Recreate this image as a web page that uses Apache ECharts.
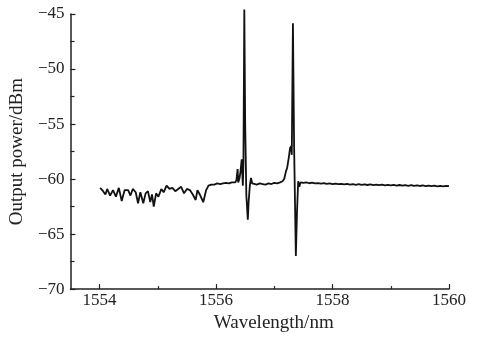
<!DOCTYPE html>
<html>
<head>
<meta charset="utf-8">
<script src="https://cdn.jsdelivr.net/npm/echarts@6/dist/echarts.min.js"></script>
<style>html,body{margin:0;padding:0;background:#fff}#c{width:477px;height:338px}</style>
</head>
<body>
<div id="c"></div>
<script>
const wavelength = [
1554.01,1554.06,1554.10,1554.13,1554.18,1554.23,1554.28,1554.33,1554.38,1554.43,
1554.49,1554.53,1554.57,1554.62,1554.66,1554.70,1554.75,1554.79,1554.83,1554.87,
1554.90,1554.93,1554.97,1555.01,1555.06,1555.10,1555.15,1555.20,1555.25,1555.30,
1555.35,1555.40,1555.45,1555.50,1555.55,1555.60,1555.65,1555.68,1555.72,1555.78,
1555.83,1555.87,1555.92,1555.97,1556.02,1556.07,1556.12,1556.17,1556.22,1556.27,
1556.30,1556.33,1556.35,1556.37,1556.38,1556.40,1556.42,1556.44,1556.45,1556.46,
1556.47,1556.485,1556.50,1556.52,1556.545,1556.56,1556.58,1556.60,1556.62,1556.65,
1556.70,1556.75,1556.80,1556.85,1556.90,1556.95,1557.00,1557.05,1557.10,1557.14,
1557.17,1557.20,1557.22,1557.25,1557.27,1557.29,1557.30,1557.32,1557.34,1557.37,
1557.39,1557.41,1557.43,1557.45,
1557.50,1557.55,1557.60,1557.65,1557.70,1557.75,1557.80,1557.85,1557.90,1557.95,
1558.00,1558.05,1558.10,1558.15,1558.20,1558.25,1558.30,1558.35,1558.40,1558.45,
1558.50,1558.55,1558.60,1558.65,1558.70,1558.75,1558.80,1558.85,1558.90,1558.95,
1559.00,1559.05,1559.10,1559.15,1559.20,1559.25,1559.30,1559.35,1559.40,1559.45,
1559.50,1559.55,1559.60,1559.65,1559.70,1559.75,1559.80,1559.85,1559.90,1559.95,
1560.00
];
const power = [
-60.8,-61.1,-61.4,-60.9,-61.5,-61.0,-61.6,-60.8,-62.0,-61.0,
-61.0,-61.5,-60.9,-61.2,-62.2,-61.2,-62.2,-61.3,-61.1,-62.1,
-61.4,-62.5,-61.3,-61.6,-60.9,-61.2,-60.6,-60.9,-60.8,-61.1,
-60.9,-60.7,-61.3,-60.9,-61.0,-61.4,-61.9,-61.0,-61.4,-62.1,
-61.0,-60.6,-60.5,-60.5,-60.4,-60.45,-60.4,-60.35,-60.4,-60.3,
-60.4,-60.3,-60.1,-59.1,-60.3,-60.0,-59.3,-58.2,-59.5,-60.6,
-58.5,-44.6,-55.0,-61.5,-63.7,-62.0,-60.6,-59.9,-60.4,-60.3,
-60.5,-60.4,-60.45,-60.5,-60.4,-60.45,-60.35,-60.4,-60.3,-60.2,
-60.0,-59.3,-59.0,-58.0,-57.2,-57.0,-57.8,-45.85,-57.0,-67.0,
-63.0,-60.2,-60.7,-60.3,
-60.35,-60.30,-60.38,-60.33,-60.40,-60.36,-60.42,-60.37,-60.44,-60.40,
-60.46,-60.41,-60.47,-60.43,-60.49,-60.44,-60.50,-60.46,-60.52,-60.47,
-60.53,-60.48,-60.54,-60.49,-60.55,-60.50,-60.56,-60.51,-60.57,-60.52,
-60.58,-60.53,-60.59,-60.54,-60.60,-60.55,-60.61,-60.56,-60.62,-60.57,
-60.63,-60.58,-60.64,-60.59,-60.65,-60.60,-60.66,-60.61,-60.67,-60.62,
-60.65
];
const xMajorTicks = [1554, 1556, 1558, 1560];
const xMinorTicks = [1555, 1557, 1559];

const font = 'Liberation Serif';
const chart = echarts.init(document.getElementById('c'), null, {renderer: 'canvas'});
const data = wavelength.map((w, i) => [w, power[i]]);
chart.setOption({
  animation: false,
  backgroundColor: '#fff',
  grid: {left: 70, right: 28, top: 14, bottom: 48, containLabel: false},
  xAxis: [{
    type: 'value', min: 1553.5, max: 1560, position: 'bottom',
    name: 'Wavelength/nm', nameLocation: 'middle', nameGap: 19,
    nameTextStyle: {fontFamily: font, fontSize: 19, color: '#222', padding: [0, 0, 0, 28]},
    axisLine: {show: true, lineStyle: {color: '#222', width: 1.5}},
    axisTick: {show: true, inside: true, length: 5, customValues: xMajorTicks, lineStyle: {color: '#222', width: 1.2}},
    axisLabel: {show: true, customValues: xMajorTicks, margin: 3, fontFamily: font, fontSize: 17, color: '#222',
      formatter: v => String(v)},
    splitLine: {show: false}
  }, {
    type: 'value', min: 1553.5, max: 1560, position: 'bottom',
    axisLine: {show: false},
    axisTick: {show: true, inside: true, length: 3, customValues: xMinorTicks, lineStyle: {color: '#222', width: 1.2}},
    axisLabel: {show: false},
    splitLine: {show: false}
  }],
  yAxis: {
    type: 'value', min: -70, max: -45, interval: 5,
    name: 'Output power/dBm', nameLocation: 'middle', nameGap: 40,
    nameTextStyle: {fontFamily: font, fontSize: 19, color: '#222'},
    axisLine: {show: true, lineStyle: {color: '#222', width: 1.5}},
    axisTick: {show: true, inside: true, length: 5, lineStyle: {color: '#222', width: 1.2}},
    minorTick: {show: true, splitNumber: 2, length: 4, lineStyle: {color: '#222', width: 1.2}},
    axisLabel: {margin: 6, fontFamily: font, fontSize: 17, color: '#222',
      formatter: v => String(v).replace('-', '\u2212')},
    splitLine: {show: false}
  },
  series: [{
    type: 'line', xAxisIndex: 0, data: data, showSymbol: false, clip: false,
    lineStyle: {color: '#111', width: 1.8}
  }]
});
</script>
</body>
</html>
